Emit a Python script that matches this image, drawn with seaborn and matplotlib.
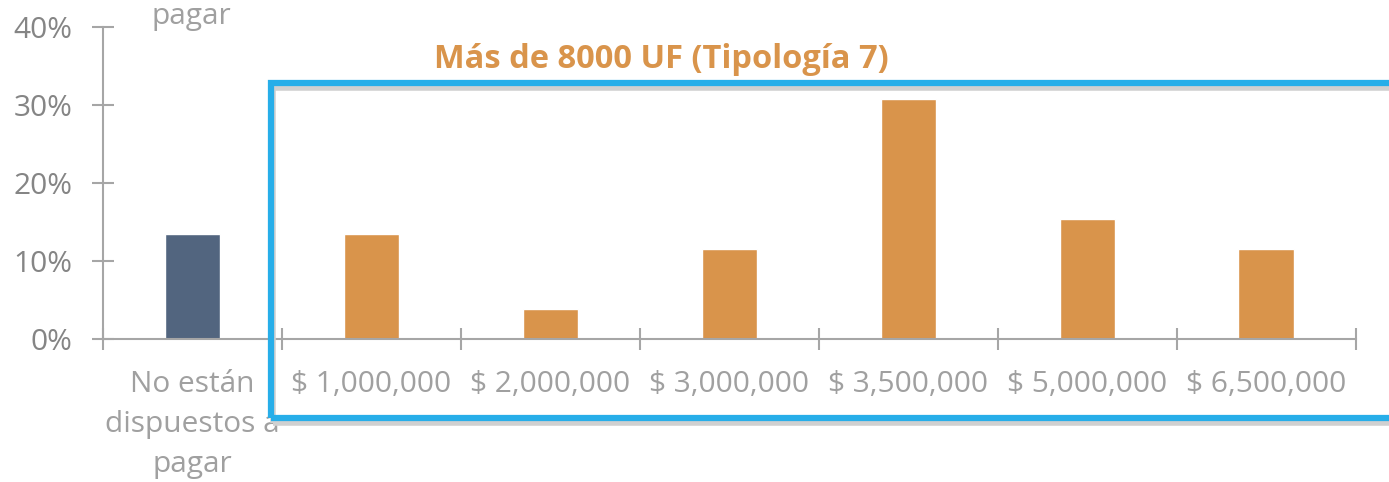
import matplotlib
matplotlib.use("Agg")
import matplotlib.pyplot as plt
import matplotlib.patches as mpatches
import seaborn as sb
import pandas as pd
import numpy as np

# Chart data
categories = ["No están\ndispuestos a\npagar", "$ 1,000,000", "$ 2,000,000", "$ 3,000,000",
              "$ 3,500,000", "$ 5,000,000", "$ 6,500,000"]
shares = [13.46, 13.46, 3.85, 11.54, 30.77, 15.38, 11.54]
barColors = ["#52657f", "#d9944b", "#d9944b", "#d9944b", "#d9944b", "#d9944b", "#d9944b"]
yTicks = [0, 10, 20, 30, 40]
title = "Más de 8000 UF (Tipología 7)"

sb.set_style("white")
plt.rcParams['font.family'] = ['Open Sans', 'DejaVu Sans']

gray = "#a6a6a6"
textGray = "#858585"

df = pd.DataFrame({"cat": categories, "val": shares})

fig = plt.figure(figsize=(13.89, 4.82), dpi=100)
ax = fig.add_axes([0.0742, 0.2967, 0.9018, 0.6473])

sb.barplot(data=df, x="cat", y="val", hue="cat", palette=barColors, width=0.31,
           legend=False, saturation=1, ax=ax)

ax.set_ylim(0, 40)
ax.set_xlim(-0.5, len(categories) - 0.5)
ax.set_yticks(yTicks)
ax.set_yticklabels([f"{t}%" for t in yTicks], fontsize=21.5, color=textGray)
ax.set_xlabel("")
ax.set_ylabel("")

# category labels centered, separator ticks between categories
ax.set_xticks(range(len(categories)))
ax.set_xticklabels(categories, fontsize=21.5, color="#a0a0a0", linespacing=1.5)
ax.set_xticks(np.arange(-0.5, len(categories), 1), minor=True)
ax.tick_params(axis="x", which="major", bottom=True, length=0, pad=22)
ax.tick_params(axis="x", which="minor", bottom=True, length=16, width=1.5, direction="inout", color=gray)
ax.tick_params(axis="y", left=True, length=16, width=1.5, direction="inout", color=gray, pad=14)

for s in ["top", "right"]:
    ax.spines[s].set_visible(False)
for s in ["left", "bottom"]:
    ax.spines[s].set_color(gray)
    ax.spines[s].set_linewidth(1.5)

# title over the highlighted block
fig.text(0.476, 0.876, title, fontsize=23.5, fontweight="bold", color="#d9944b",
         ha="center", va="center")

# leftover label from the chart above
fig.text(0.138, 1 - 24 / 482, "pagar", fontsize=21.5, color="#a0a0a0", ha="center", va="baseline")

# blue frame with soft shadow
W, H = 1389, 482
x0, y0, x1, y1 = 271 / W, 1 - 418 / H, 1.05, 1 - 83 / H
shadow = mpatches.Rectangle((x0 + 2 / W, y0 - 5 / H), x1 - x0, y1 - y0, transform=fig.transFigure,
                            fill=False, edgecolor="#d0d0d0", linewidth=4, clip_on=False, zorder=9)
frame = mpatches.Rectangle((x0, y0), x1 - x0, y1 - y0, transform=fig.transFigure,
                           fill=False, edgecolor="#27aee9", linewidth=4.5, clip_on=False, zorder=10)
fig.patches.append(shadow)
fig.patches.append(frame)

fig.savefig("out.png", dpi=100)
